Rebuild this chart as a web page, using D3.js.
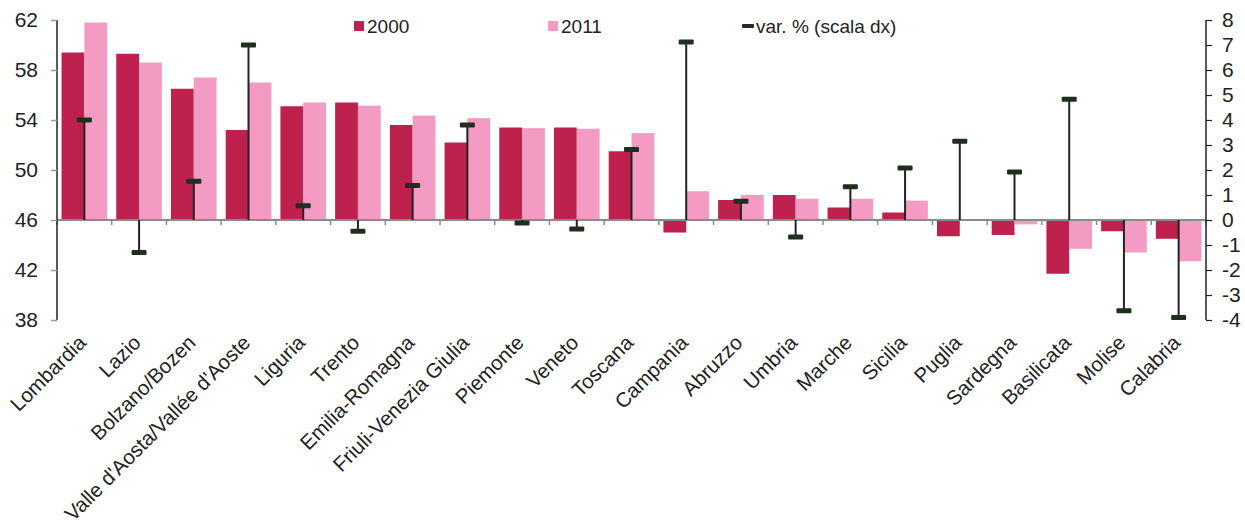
<!DOCTYPE html>
<html><head><meta charset="utf-8">
<script src="https://cdn.jsdelivr.net/npm/d3@7"></script>
<style>body{margin:0;background:#fff}svg{display:block;font-family:"Liberation Sans",Arial,sans-serif}</style>
</head><body><svg id="c" width="1245" height="530"></svg>
<script>
const categories = ["Lombardia","Lazio","Bolzano/Bozen","Valle d'Aosta/Vallée d'Aoste","Liguria","Trento","Emilia-Romagna","Friuli-Venezia Giulia","Piemonte","Veneto","Toscana","Campania","Abruzzo","Umbria","Marche","Sicilia","Puglia","Sardegna","Basilicata","Molise","Calabria"];
const values2000 = [59.4,59.3,56.5,53.2,55.1,55.4,53.6,52.2,53.4,53.4,51.5,45.0,47.6,48.0,47.0,46.6,44.7,44.8,41.7,45.1,44.5];
const values2011 = [61.8,58.6,57.4,57.0,55.4,55.15,54.35,54.15,53.35,53.3,52.95,48.3,48.0,47.7,47.7,47.55,46.0,45.65,43.7,43.4,42.7];
const varPct = [4.0,-1.3,1.55,7.0,0.57,-0.45,1.38,3.8,-0.12,-0.36,2.82,7.12,0.75,-0.68,1.33,2.08,3.15,1.92,4.83,-3.63,-3.9];
const leftTicks = [38,42,46,50,54,58,62];
const rightTicks = [-4,-3,-2,-1,0,1,2,3,4,5,6,7,8];
const seriesNames = ["2000","2011","var. % (scala dx)"];
const colors = {c2000:"#be214d", c2011:"#f39bc2", marker:"#1f2e1f"};

const svg = d3.select("#c");
const L = 57, R = 1206, T = 20, B = 320;
const x = d3.scaleBand().domain(categories).range([L, R]).paddingInner(0).paddingOuter(0);
const yL = d3.scaleLinear().domain([38,62]).range([B, T]);
const yR = d3.scaleLinear().domain([-4,8]).range([B, T]);
const base = 46;
const bw = x.bandwidth();
const inner = d3.scaleBand().domain(["2000","2011"]).range([0, bw]).paddingInner(0).paddingOuter(0.2);

// bars
const g = svg.append("g");
categories.forEach((c,i)=>{
  [["2000",values2000[i],colors.c2000],["2011",values2011[i],colors.c2011]].forEach(([k,v,col])=>{
    const y0 = yL(base), y1 = yL(v);
    g.append("rect").attr("x", x(c)+inner(k)).attr("width", inner.bandwidth())
      .attr("y", Math.min(y0,y1)).attr("height", Math.abs(y1-y0)).attr("fill", col);
  });
});

// baseline with category ticks
svg.append("line").attr("x1",L).attr("x2",R).attr("y1",yL(base)).attr("y2",yL(base)).attr("stroke","#8a8a8a").attr("stroke-width",2);
categories.concat(["_end"]).forEach((c,i)=>{
  const xx = L + i*bw;
  svg.append("line").attr("x1",xx).attr("x2",xx).attr("y1",yL(base)).attr("y2",yL(base)+5).attr("stroke","#8a8a8a").attr("stroke-width",1.5);
});

// var% stems and markers
categories.forEach((c,i)=>{
  const cx = x(c)+bw/2;
  svg.append("line").attr("x1",cx).attr("x2",cx).attr("y1",yR(0)).attr("y2",yR(varPct[i])).attr("stroke","#222").attr("stroke-width",2);
  svg.append("rect").attr("x",cx-7.5).attr("width",15).attr("y",yR(varPct[i])-2.5).attr("height",5).attr("rx",1).attr("fill",colors.marker);
});

// left axis
const axL = svg.append("g").attr("transform",`translate(${L},0)`).call(d3.axisLeft(yL).tickValues(leftTicks).tickSize(6).tickPadding(13));
axL.select(".domain").attr("stroke","#222").attr("stroke-width",1.5).attr("d",`M0,${T}V${B}`);
axL.selectAll(".tick line").attr("stroke","#999").attr("stroke-width",1.5);
axL.selectAll(".tick text").attr("font-size",21).attr("fill","#222").style("font-family","Liberation Sans, Arial, sans-serif");

// right axis
const axR = svg.append("g").attr("transform",`translate(${R},0)`).call(d3.axisRight(yR).tickValues(rightTicks).tickSize(6).tickPadding(10).tickFormat(d=>d<0?"-"+Math.abs(d):d));
axR.select(".domain").attr("stroke","#222").attr("stroke-width",1.5).attr("d",`M0,${T}V${B}`);
axR.selectAll(".tick line").attr("stroke","#222").attr("stroke-width",1.2);
axR.selectAll(".tick text").attr("font-size",21).attr("fill","#222").style("font-family","Liberation Sans, Arial, sans-serif");

// category labels
categories.forEach(c=>{
  const cx = x(c)+bw/2;
  svg.append("text").attr("transform",`translate(${cx+3},${344}) rotate(-45)`).attr("text-anchor","end")
    .attr("font-size",20.5).attr("fill","#222").text(c);
});

// legend
const lg = svg.append("g").attr("font-size",19).attr("fill","#222");
lg.append("rect").attr("x",354).attr("y",21).attr("width",10).attr("height",10).attr("fill",colors.c2000);
lg.append("text").attr("x",367).attr("y",33).text(seriesNames[0]);
lg.append("rect").attr("x",548).attr("y",21).attr("width",10).attr("height",10).attr("fill",colors.c2011);
lg.append("text").attr("x",561).attr("y",33).text(seriesNames[1]);
lg.append("rect").attr("x",742).attr("y",24).attr("width",12).attr("height",4).attr("rx",1).attr("fill",colors.marker);
lg.append("text").attr("x",756).attr("y",33).text(seriesNames[2]);
</script></body></html>
